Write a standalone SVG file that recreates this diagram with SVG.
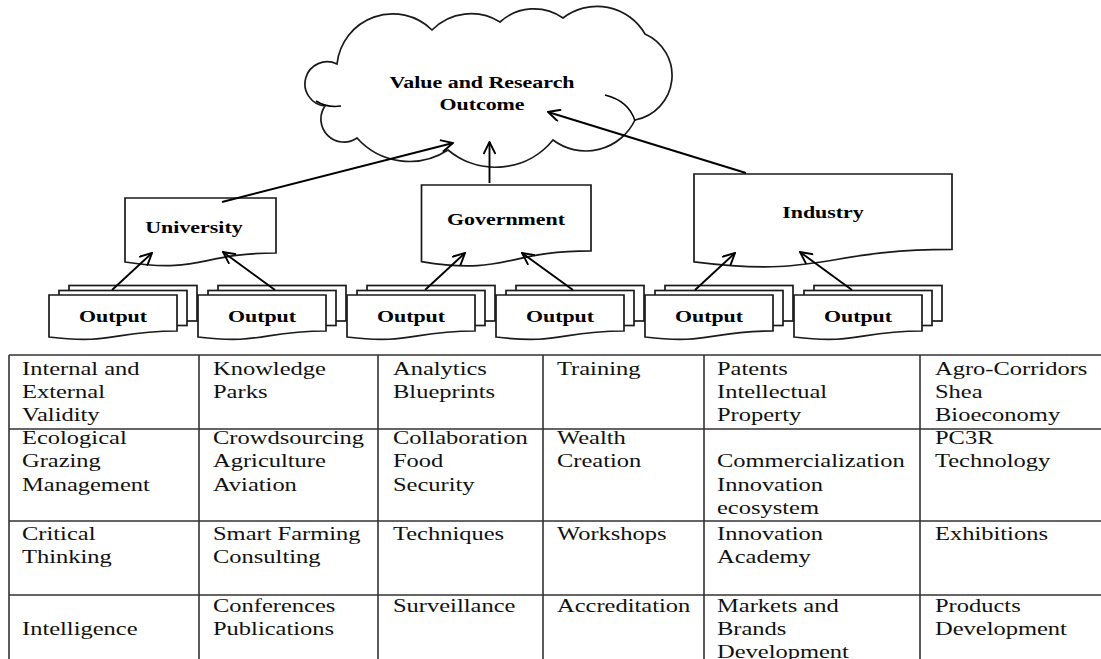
<svg xmlns="http://www.w3.org/2000/svg" width="1101" height="659" viewBox="0 0 1101 659">
<style>
.shape{fill:#fff;stroke:#1a1a1a;stroke-width:1.7}
.conn{fill:none;stroke:#000;stroke-width:1.9}
.grid{fill:none;stroke:#333;stroke-width:1.6}
.lbl{font-family:"Liberation Serif","Times New Roman",serif;font-weight:bold;font-size:17px;fill:#000;text-anchor:middle}
.cell{font-family:"Liberation Serif","Times New Roman",serif;font-size:19px;fill:#111}
</style>
<defs>
<marker id="ah" viewBox="0 0 14 13" refX="13" refY="6.5" markerWidth="14" markerHeight="13" markerUnits="userSpaceOnUse" orient="auto">
<path d="M1,0.5 L13,6.5 L1,12.5" fill="none" stroke="#000" stroke-width="1.9"/>
</marker>
<g id="outstack">
<rect x="20" y="-9.5" width="128" height="35.5" class="shape"/>
<rect x="10" y="-4.5" width="128" height="35" class="shape"/>
<path d="M0,0 H128 V36 C64,36 64,49.8 0,42 Z" class="shape"/>
</g>
</defs>

<g id="cloud">
<path class="shape" d="M337,64 A56,56 0 0 1 432,30 A55,55 0 0 1 500,22 A50.6,50.6 0 0 1 563,18 A55.4,55.4 0 0 1 645,34 A45.3,45.3 0 0 1 635,120 A54.5,54.5 0 0 1 553,140 A74.2,74.2 0 0 1 448,150 A70.5,70.5 0 0 1 357,138 A23,23 0 0 1 325,106 A22.2,22.2 0 1 1 337,64 Z"/>
<path class="conn" style="stroke-width:1.5" d="M605,95 Q629,101 635,121 M316,101 Q327,108 341,106"/>
<text class="lbl" transform="translate(482,88) scale(1.29,1)">Value and Research</text>
<text class="lbl" transform="translate(482,110) scale(1.29,1)">Outcome</text>
</g>

<g id="university">
<path class="shape" d="M125,198 H276 V253 C200.5,253 200.5,273.9 125,262 Z"/>
<text class="lbl" transform="translate(194,233) scale(1.29,1)">University</text>
</g>
<g id="government">
<path class="shape" d="M421.5,185 H591 V250.8 C506.3,250.8 506.3,275.8 421.5,261.6 Z"/>
<text class="lbl" transform="translate(506,225) scale(1.29,1)">Government</text>
</g>
<g id="industry">
<path class="shape" d="M694,174 H952 V249.4 C823,249.4 823,278.1 694,261.8 Z"/>
<text class="lbl" transform="translate(823,218) scale(1.29,1)">Industry</text>
</g>

<g id="output1"><use href="#outstack" transform="translate(49,295)"/><text class="lbl" transform="translate(113,322) scale(1.29,1)">Output</text></g>
<g id="output2"><use href="#outstack" transform="translate(198,295)"/><text class="lbl" transform="translate(262,322) scale(1.29,1)">Output</text></g>
<g id="output3"><use href="#outstack" transform="translate(347,295)"/><text class="lbl" transform="translate(411,322) scale(1.29,1)">Output</text></g>
<g id="output4"><use href="#outstack" transform="translate(496,295)"/><text class="lbl" transform="translate(560,322) scale(1.29,1)">Output</text></g>
<g id="output5"><use href="#outstack" transform="translate(645,295)"/><text class="lbl" transform="translate(709,322) scale(1.29,1)">Output</text></g>
<g id="output6"><use href="#outstack" transform="translate(794,295)"/><text class="lbl" transform="translate(858,322) scale(1.29,1)">Output</text></g>

<g id="connectors">
<line class="conn" x1="222" y1="202" x2="453" y2="143" marker-end="url(#ah)"/>
<line class="conn" x1="489.5" y1="183" x2="489.5" y2="142" marker-end="url(#ah)"/>
<line class="conn" x1="746" y1="173" x2="548" y2="112" marker-end="url(#ah)"/>
<line class="conn" x1="112" y1="290" x2="152" y2="253" marker-end="url(#ah)"/>
<line class="conn" x1="275" y1="290" x2="223" y2="252" marker-end="url(#ah)"/>
<line class="conn" x1="425" y1="290" x2="465" y2="253" marker-end="url(#ah)"/>
<line class="conn" x1="573" y1="290" x2="522" y2="253" marker-end="url(#ah)"/>
<line class="conn" x1="695" y1="290" x2="735" y2="253" marker-end="url(#ah)"/>
<line class="conn" x1="852" y1="290" x2="800" y2="252" marker-end="url(#ah)"/>
</g>

<g id="table">
<path class="grid" d="M9,355 H1101 M9,429 H1101 M9,521 H1101 M9,595 H1101 M9,355 V659 M199,355 V659 M378,355 V659 M543,355 V659 M704,355 V659 M920,355 V659"/>
<text class="cell" transform="translate(22,374.5) scale(1.29,1)"><tspan x="0" y="0">Internal and</tspan><tspan x="0" y="23.5">External</tspan><tspan x="0" y="47">Validity</tspan></text>
<text class="cell" transform="translate(213,374.5) scale(1.29,1)"><tspan x="0" y="0">Knowledge</tspan><tspan x="0" y="23.5">Parks</tspan></text>
<text class="cell" transform="translate(393,374.5) scale(1.29,1)"><tspan x="0" y="0">Analytics</tspan><tspan x="0" y="23.5">Blueprints</tspan></text>
<text class="cell" transform="translate(557,374.5) scale(1.29,1)">Training</text>
<text class="cell" transform="translate(717,374.5) scale(1.29,1)"><tspan x="0" y="0">Patents</tspan><tspan x="0" y="23.5">Intellectual</tspan><tspan x="0" y="47">Property</tspan></text>
<text class="cell" transform="translate(935,374.5) scale(1.29,1)"><tspan x="0" y="0">Agro-Corridors</tspan><tspan x="0" y="23.5">Shea</tspan><tspan x="0" y="47">Bioeconomy</tspan></text>

<text class="cell" transform="translate(22,444) scale(1.29,1)"><tspan x="0" y="0">Ecological</tspan><tspan x="0" y="23.5">Grazing</tspan><tspan x="0" y="47">Management</tspan></text>
<text class="cell" transform="translate(213,444) scale(1.29,1)"><tspan x="0" y="0">Crowdsourcing</tspan><tspan x="0" y="23.5">Agriculture</tspan><tspan x="0" y="47">Aviation</tspan></text>
<text class="cell" transform="translate(393,444) scale(1.29,1)"><tspan x="0" y="0">Collaboration</tspan><tspan x="0" y="23.5">Food</tspan><tspan x="0" y="47">Security</tspan></text>
<text class="cell" transform="translate(557,444) scale(1.29,1)"><tspan x="0" y="0">Wealth</tspan><tspan x="0" y="23.5">Creation</tspan></text>
<text class="cell" transform="translate(717,444) scale(1.29,1)"><tspan x="0" y="23.5">Commercialization</tspan><tspan x="0" y="47">Innovation</tspan><tspan x="0" y="70.5">ecosystem</tspan></text>
<text class="cell" transform="translate(935,444) scale(1.29,1)"><tspan x="0" y="0">PC3R</tspan><tspan x="0" y="23.5">Technology</tspan></text>

<text class="cell" transform="translate(22,539.5) scale(1.29,1)"><tspan x="0" y="0">Critical</tspan><tspan x="0" y="23.5">Thinking</tspan></text>
<text class="cell" transform="translate(213,539.5) scale(1.29,1)"><tspan x="0" y="0">Smart Farming</tspan><tspan x="0" y="23.5">Consulting</tspan></text>
<text class="cell" transform="translate(393,539.5) scale(1.29,1)">Techniques</text>
<text class="cell" transform="translate(557,539.5) scale(1.29,1)">Workshops</text>
<text class="cell" transform="translate(717,539.5) scale(1.29,1)"><tspan x="0" y="0">Innovation</tspan><tspan x="0" y="23.5">Academy</tspan></text>
<text class="cell" transform="translate(935,539.5) scale(1.29,1)">Exhibitions</text>

<text class="cell" transform="translate(22,635) scale(1.29,1)">Intelligence</text>
<text class="cell" transform="translate(213,611.5) scale(1.29,1)"><tspan x="0" y="0">Conferences</tspan><tspan x="0" y="23.5">Publications</tspan></text>
<text class="cell" transform="translate(393,611.5) scale(1.29,1)">Surveillance</text>
<text class="cell" transform="translate(557,611.5) scale(1.29,1)">Accreditation</text>
<text class="cell" transform="translate(717,611.5) scale(1.29,1)"><tspan x="0" y="0">Markets and</tspan><tspan x="0" y="23.5">Brands</tspan><tspan x="0" y="47">Development</tspan></text>
<text class="cell" transform="translate(935,611.5) scale(1.29,1)"><tspan x="0" y="0">Products</tspan><tspan x="0" y="23.5">Development</tspan></text>
</g>
</svg>
